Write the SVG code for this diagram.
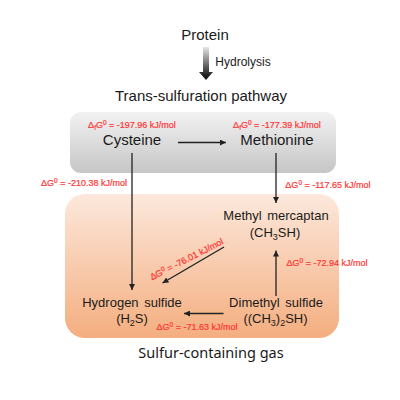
<svg xmlns="http://www.w3.org/2000/svg" width="400" height="400" viewBox="0 0 400 400">
<defs>
<linearGradient id="gGray" x1="0" y1="0" x2="0" y2="1">
<stop offset="0" stop-color="#f2f2f2"/>
<stop offset="1" stop-color="#c6c6c6"/>
</linearGradient>
<linearGradient id="gOrange" x1="0" y1="0" x2="0" y2="1">
<stop offset="0" stop-color="#fce8dc"/>
<stop offset="1" stop-color="#f4ae7f"/>
</linearGradient>
<linearGradient id="gArrow" x1="0" y1="0" x2="0" y2="1">
<stop offset="0" stop-color="#e6e6e6"/>
<stop offset="0.85" stop-color="#222"/>
<stop offset="1" stop-color="#111"/>
</linearGradient>
<marker id="ah" viewBox="0 0 10 10" refX="10" refY="5" markerWidth="6" markerHeight="6" markerUnits="userSpaceOnUse" orient="auto">
<path d="M0,0 L10,5 L0,10 z" fill="#222"/>
</marker>
</defs>
<style>
.t{font-family:"Liberation Sans",Arial,sans-serif;fill:#1a1a1a;text-anchor:middle}
.big{font-size:15px}
.mid{font-size:13px}
.dg{font-family:"Liberation Sans",Arial,sans-serif;font-size:9px;fill:#ff3535;stroke:#ff3535;stroke-width:0.2;text-anchor:middle}
.ln{stroke:#222;stroke-width:1.3;fill:none;marker-end:url(#ah)}
</style>
<rect x="70" y="112" width="266" height="61" rx="11" fill="url(#gGray)"/>
<rect x="65" y="194" width="274" height="144" rx="20" fill="url(#gOrange)"/>

<g id="protein">
<text class="t big" x="205" y="40">Protein</text>
</g>
<g id="hydrolysis-arrow">
<path d="M203,47 L209,47 L209,72 L213,72 L206,80 L199,72 L203,72 z" fill="url(#gArrow)"/>
<text class="t" x="243" y="66" style="font-size:12px">Hydrolysis</text>
</g>
<g id="pathway">
<text class="t big" x="201" y="101">Trans-sulfuration pathway</text>
</g>
<g id="cysteine">
<text class="dg" x="132" y="127.5">Δ<tspan font-size="6.5" dy="2">f</tspan><tspan dy="-2">G</tspan><tspan font-size="6.5" dy="-3">0</tspan><tspan dy="3"> = -197.96 kJ/mol</tspan></text>
<text class="t big" x="132" y="145">Cysteine</text>
</g>
<g id="methionine">
<text class="dg" x="277" y="127.5">Δ<tspan font-size="6.5" dy="2">f</tspan><tspan dy="-2">G</tspan><tspan font-size="6.5" dy="-3">0</tspan><tspan dy="3"> = -177.39 kJ/mol</tspan></text>
<text class="t big" x="277" y="145">Methionine</text>
</g>
<g id="methyl-mercaptan">
<text class="t mid" x="276" y="220" word-spacing="2">Methyl mercaptan</text>
<text class="t mid" x="275" y="237">(CH<tspan font-size="9" dy="3">3</tspan><tspan dy="-3">SH)</tspan></text>
</g>
<g id="hydrogen-sulfide">
<text class="t mid" x="132" y="307" word-spacing="2">Hydrogen sulfide</text>
<text class="t mid" x="132" y="323">(H<tspan font-size="9" dy="3">2</tspan><tspan dy="-3">S)</tspan></text>
</g>
<g id="dimethyl-sulfide">
<text class="t mid" x="276" y="307" word-spacing="2">Dimethyl sulfide</text>
<text class="t mid" x="275.5" y="323">((CH<tspan font-size="9" dy="3">3</tspan><tspan dy="-3">)</tspan><tspan font-size="9" dy="3">2</tspan><tspan dy="-3">SH)</tspan></text>
</g>
<g id="gas-label">
<text x="211" y="358" style="font-family:'Noto Sans','Open Sans',sans-serif;font-size:14.5px;fill:#1a1a1a;text-anchor:middle">Sulfur-containing gas</text>
</g>

<g id="connectors">
<line class="ln" x1="178" y1="142.5" x2="226" y2="142.5"/>
<line class="ln" x1="132" y1="153" x2="132" y2="290"/>
<line class="ln" x1="276" y1="153" x2="276" y2="203"/>
<line class="ln" x1="224" y1="247" x2="162.5" y2="283"/>
<line class="ln" x1="276" y1="296" x2="276" y2="250.5"/>
<line class="ln" x1="223.5" y1="313.5" x2="184" y2="313.5"/>
<text class="dg" x="84" y="186">ΔG<tspan font-size="6.5" dy="-3">0</tspan><tspan dy="3"> = -210.38 kJ/mol</tspan></text>
<text class="dg" x="328" y="187.5">ΔG<tspan font-size="6.5" dy="-3">0</tspan><tspan dy="3"> = -117.65 kJ/mol</tspan></text>
<text class="dg" x="327" y="266">ΔG<tspan font-size="6.5" dy="-3">0</tspan><tspan dy="3"> = -72.94 kJ/mol</tspan></text>
<text class="dg" x="197" y="329.5">ΔG<tspan font-size="6.5" dy="-3">0</tspan><tspan dy="3"> = -71.63 kJ/mol</tspan></text>
<text class="dg" transform="translate(188,262) rotate(-27)" x="0" y="0">ΔG<tspan font-size="6.5" dy="-3">0</tspan><tspan dy="3"> = -76.01 kJ/mol</tspan></text>
</g>
</svg>
